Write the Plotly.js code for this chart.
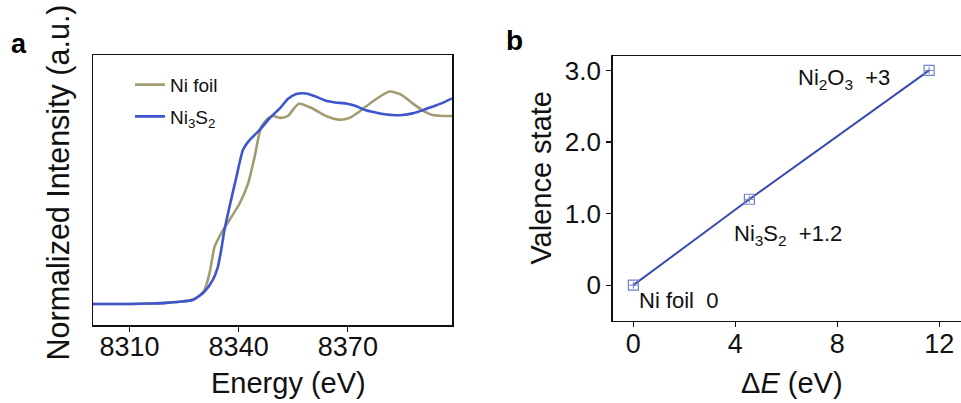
<!DOCTYPE html>
<html>
<head>
<meta charset="utf-8">
<script src="https://cdn.plot.ly/plotly-3.0.1.min.js"></script>
<style>html,body{margin:0;padding:0;background:#fff;}#chart{width:961px;height:403px;}</style>
</head>
<body>
<div id="chart"></div>
<script>
// Panel a: XANES spectra
const energyFoil = [8300, 8310, 8316, 8320, 8324, 8327.4, 8329, 8330.6, 8332, 8333.4, 8335.2, 8337.5, 8340.3, 8342.6, 8344.4, 8346.2, 8348.1, 8349.5, 8351.5, 8353.5, 8356.5, 8360.3, 8364, 8367.7, 8370.5, 8373.2, 8377, 8381.4, 8384.5, 8387.8, 8390.5, 8393.3, 8396, 8398.6];
const intensityFoil = [0, 0, 0.003, 0.006, 0.012, 0.024, 0.04, 0.074, 0.163, 0.305, 0.376, 0.447, 0.536, 0.642, 0.784, 0.943, 0.988, 1.0, 0.99, 1.0, 1.065, 1.04, 1.0, 0.98, 0.99, 1.024, 1.08, 1.13, 1.115, 1.067, 1.03, 1.005, 1.0, 1.0];
const energyNi3S2 = [8300, 8310, 8316, 8320, 8323.8, 8327.4, 8330.6, 8332.9, 8334.3, 8335.2, 8336.1, 8337.5, 8339.4, 8341.2, 8343, 8345.8, 8348.5, 8351.3, 8353.5, 8355.8, 8358.5, 8361, 8364, 8366.5, 8369.5, 8372, 8375, 8378.5, 8382.3, 8385, 8387.8, 8390.5, 8393.3, 8396, 8398.6];
const intensityNi3S2 = [0, 0, 0.003, 0.006, 0.012, 0.021, 0.065, 0.128, 0.198, 0.287, 0.394, 0.518, 0.677, 0.82, 0.872, 0.926, 0.988, 1.04, 1.09, 1.117, 1.12, 1.105, 1.081, 1.072, 1.067, 1.055, 1.03, 1.015, 1.005, 1.005, 1.014, 1.03, 1.05, 1.07, 1.094];
const seriesNames = ["Ni foil", "Ni<sub>3</sub>S<sub>2</sub>"];
const energyTicks = [8310, 8340, 8370];

// Panel b: valence state vs edge shift
const deltaE = [0, 4.55, 11.6];
const valence = [0, 1.2, 3];
const valenceErr = [0.05, 0.05, 0.05];
const sampleLabels = ["Ni foil\u00A0\u00A00", "Ni<sub>3</sub>S<sub>2</sub>\u00A0\u00A0+1.2", "Ni<sub>2</sub>O<sub>3</sub>\u00A0\u00A0+3"];
const valenceTicks = [0, 1, 2, 3];
const valenceTickText = ["0", "1.0", "2.0", "3.0"];
const deltaETicks = [0, 4, 8, 12];

const FONT = "Arial, 'Liberation Sans', sans-serif";
const W = 961;

const traces = [
  {x: energyFoil, y: intensityFoil, type: 'scatter', mode: 'lines', name: seriesNames[0],
   line: {color: '#a09c70', width: 2.6, shape: 'spline', smoothing: 0.6},
   xaxis: 'x', yaxis: 'y', legendgroup: 'g1'},
  {x: energyNi3S2, y: intensityNi3S2, type: 'scatter', mode: 'lines', name: seriesNames[1],
   line: {color: '#3d55cf', width: 2.6, shape: 'spline', smoothing: 0.6},
   xaxis: 'x', yaxis: 'y', legendgroup: 'g2'},
  {x: deltaE, y: valence, type: 'scatter', mode: 'lines', showlegend: false,
   line: {color: '#3a4cb2', width: 2}, xaxis: 'x2', yaxis: 'y2'},
  {x: deltaE, y: valence, type: 'scatter', mode: 'markers', showlegend: false,
   marker: {symbol: 'square-open', size: 10, color: '#6d80c8', line: {width: 1.2}},
   error_y: {type: 'data', array: valenceErr, visible: true, width: 0, thickness: 1, color: '#6d80c8'},
   xaxis: 'x2', yaxis: 'y2'},
  {x: deltaE, y: valence, type: 'scatter', mode: 'markers', showlegend: false,
   marker: {symbol: 'line-ew-open', size: 6, color: '#6d80c8', line: {width: 1, color: '#6d80c8'}},
   xaxis: 'x2', yaxis: 'y2'}
];

const labelShifts = [{xs: 4, ys: -15, xa: 'left'}, {xs: -17, ys: -36, xa: 'left'}, {xs: -37, ys: -9, xa: 'right'}];
const annotations = [];
deltaE.forEach((d, i) => {
  annotations.push({x: d, y: valence[i], xref: 'x2', yref: 'y2', text: sampleLabels[i], showarrow: false,
    xanchor: labelShifts[i].xa, yanchor: 'middle', xshift: labelShifts[i].xs, yshift: labelShifts[i].ys,
    font: {family: FONT, size: 22, color: '#111'}});
});
annotations.push(
  {xref: 'paper', yref: 'paper', x: 9 / W, y: 1.04, text: '<b>a</b>', showarrow: false, xanchor: 'left', yanchor: 'middle', font: {family: FONT, size: 27, color: '#000'}},
  {xref: 'paper', yref: 'paper', x: 504 / W, y: 1.052, text: '<b>b</b>', showarrow: false, xanchor: 'left', yanchor: 'middle', font: {family: FONT, size: 28, color: '#000'}},
  {xref: 'paper', yref: 'paper', x: 288 / W, y: -0.215, text: 'Energy (eV)', showarrow: false, xanchor: 'center', yanchor: 'middle', font: {family: FONT, size: 29, color: '#111'}},
  {xref: 'paper', yref: 'paper', x: 792 / W, y: -0.215, text: 'Δ<i>E</i> (eV)', showarrow: false, xanchor: 'center', yanchor: 'middle', font: {family: FONT, size: 29, color: '#111'}},
  {xref: 'paper', yref: 'paper', x: 58 / W, y: 0.528, text: 'Normalized Intensity (a.u.)', textangle: -90, showarrow: false, xanchor: 'center', yanchor: 'middle', font: {family: FONT, size: 30.5, color: '#111'}},
  {xref: 'paper', yref: 'paper', x: 541 / W, y: 0.546, text: 'Valence state', textangle: -90, showarrow: false, xanchor: 'center', yanchor: 'middle', font: {family: FONT, size: 29, color: '#111'}}
);

const axisCommon = {showgrid: false, zeroline: false, showline: true, linecolor: '#111', linewidth: 1.5, mirror: true,
  ticks: 'outside', ticklen: 5, tickwidth: 1.2, tickcolor: '#111', tickfont: {family: FONT, size: 27, color: '#111'}, fixedrange: true};

const layout = {
  width: W, height: 403,
  margin: {l: 0, r: 0, t: 55, b: 78},
  paper_bgcolor: '#fff', plot_bgcolor: '#fff',
  showlegend: true,
  legend: {x: 130 / W, y: 0.96, xanchor: 'left', yanchor: 'top', bgcolor: 'rgba(0,0,0,0)', tracegroupgap: 4,
    font: {family: FONT, size: 19, color: '#111'}},
  xaxis: Object.assign({}, axisCommon, {domain: [93 / W, 452 / W], range: [8300, 8398.6], tickvals: energyTicks, anchor: 'y', ticklabelstandoff: -8}),
  yaxis: Object.assign({}, axisCommon, {domain: [0, 1], range: [-0.1117, 1.3245], showticklabels: false, ticks: '', anchor: 'x'}),
  xaxis2: Object.assign({}, axisCommon, {domain: [612.7 / W, 1], range: [-0.81, 12.85], tickvals: deltaETicks, anchor: 'y2', ticklabelstandoff: -7}),
  yaxis2: Object.assign({}, axisCommon, {domain: [0.015, 0.996], range: [-0.5, 3.2], tickvals: valenceTicks, ticktext: valenceTickText, anchor: 'x2', tickfont: {family: FONT, size: 26, color: '#111'}}),
  annotations: annotations
};

Plotly.newPlot('chart', traces, layout, {displayModeBar: false, staticPlot: true});
</script>
</body>
</html>
